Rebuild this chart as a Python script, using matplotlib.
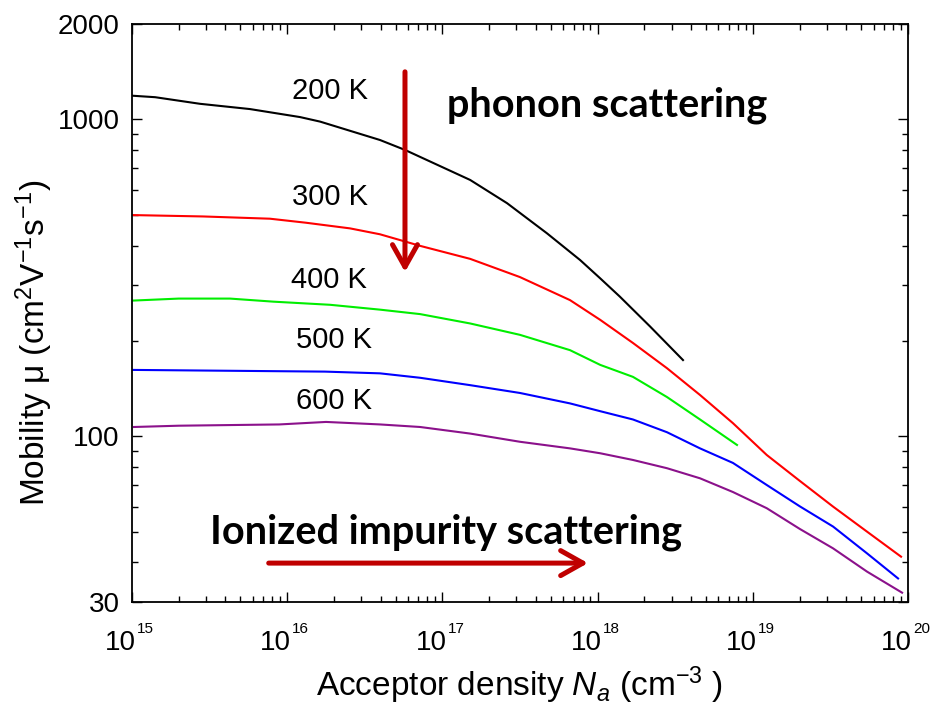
import matplotlib
matplotlib.use("Agg")
import matplotlib.pyplot as plt
from matplotlib.ticker import FixedLocator, NullFormatter, FixedFormatter
from matplotlib.transforms import blended_transform_factory, offset_copy

plt.rcParams['font.family'] = ['Liberation Sans', 'DejaVu Sans']
plt.rcParams['mathtext.fontset'] = 'custom'
plt.rcParams['mathtext.rm'] = 'Liberation Sans'
plt.rcParams['mathtext.it'] = 'Liberation Sans:italic'
plt.rcParams['mathtext.bf'] = 'Liberation Sans:bold'

# ---------------- data ----------------
x_200 = [1.0e15, 1.41e15, 2.74e15, 5.75e15, 1.21e16, 1.63e16, 3.96e16, 5.74e16,
         1.51e17, 2.61e17, 4.72e17, 7.71e17, 1.04e18, 1.39e18, 2.18e18, 3.55e18]
mu_200 = [1188, 1175, 1120, 1078, 1017, 984, 861, 801,
          644, 544, 437, 360, 315, 276, 222, 174]

x_300 = [1.0e15, 2.87e15, 7.74e15, 1.32e16, 2.54e16, 3.96e16, 7.18e16, 1.51e17,
         3.16e17, 6.64e17, 1.04e18, 1.69e18, 2.80e18, 4.57e18, 7.45e18, 1.23e19,
         2.01e19, 3.29e19, 5.45e19, 9.02e19]
mu_300 = [499, 494, 486, 472, 453, 434, 399, 363,
          318, 269, 233, 197, 164, 135, 110, 87.3,
          72.3, 60.0, 50.0, 41.7]

x_400 = [1.0e15, 2.0e15, 4.28e15, 8.13e15, 1.89e16, 3.96e16, 7.18e16, 1.51e17,
         3.16e17, 6.64e17, 1.04e18, 1.69e18, 2.80e18, 4.57e18, 7.91e18]
mu_400 = [268, 272, 272, 266, 260, 251, 243, 227,
          209, 187, 168, 154, 133, 113, 93.9]

x_500 = [1.0e15, 1.75e16, 3.96e16, 7.18e16, 1.51e17, 3.16e17, 6.64e17, 1.04e18,
         1.69e18, 2.80e18, 4.57e18, 7.45e18, 1.23e19, 2.01e19, 3.29e19, 5.45e19, 8.63e19]
mu_500 = [162, 160, 158, 153, 145, 137, 127, 120,
          113, 103, 91.6, 82.4, 70.2, 60.1, 51.9, 42.7, 35.6]

x_600 = [1.03e15, 2.0e15, 8.9e15, 1.78e16, 3.96e16, 7.18e16, 1.51e17, 3.16e17,
         6.64e17, 1.04e18, 1.69e18, 2.80e18, 4.57e18, 7.45e18, 1.23e19, 2.01e19,
         3.29e19, 5.45e19, 9.16e19]
mu_600 = [107, 108, 109, 111, 109, 107, 102, 96.1,
          91.6, 88.4, 84.2, 79.3, 73.7, 66.7, 59.3, 51.0,
          44.3, 37.4, 32.1]

temps = ["200 K", "300 K", "400 K", "500 K", "600 K"]
colors = ["black", "#ff0000", "#00ee00", "#0000ff", "#8b118b"]

x_major = [1e15, 1e16, 1e17, 1e18, 1e19, 1e20]
x_exps = ["15", "16", "17", "18", "19", "20"]
y_major = [30, 100, 1000, 2000]
y_major_labels = ["30", "100", "1000", "2000"]
y_minor = [40, 50, 60, 70, 80, 90, 200, 300, 400, 500, 600, 700, 800, 900]

# ---------------- figure ----------------
fig = plt.figure(figsize=(9.34, 7.14), dpi=100)
ax = fig.add_axes([132/934, 112/714, 776/934, 578/714])

series = [(x_200, mu_200), (x_300, mu_300), (x_400, mu_400), (x_500, mu_500), (x_600, mu_600)]
for (xs, ys), c in zip(series, colors):
    ax.plot(xs, ys, color=c, lw=1.5, solid_joinstyle='round')

ax.set_xscale('log')
ax.set_yscale('log')
ax.set_xlim(1e15, 1e20)
ax.set_ylim(30, 2000)

ax.yaxis.set_major_locator(FixedLocator(y_major))
ax.yaxis.set_major_formatter(FixedFormatter(y_major_labels))
ax.yaxis.set_minor_locator(FixedLocator(y_minor))
ax.yaxis.set_minor_formatter(NullFormatter())
ax.xaxis.set_major_locator(FixedLocator(x_major))
ax.xaxis.set_major_formatter(NullFormatter())

ax.tick_params(which='both', direction='in', top=True, right=True, width=1.0, color='black')
ax.tick_params(which='major', length=7.5, labelsize=20, pad=9)
ax.tick_params(which='minor', length=4)
for s in ax.spines.values():
    s.set_linewidth(1.3)

# x tick labels: "10" with small superscript exponent
trans = blended_transform_factory(ax.transData, ax.transAxes)
for xv, ex in zip(x_major, x_exps):
    t1 = offset_copy(trans, fig=fig, x=4, y=-48, units='dots')
    ax.text(xv, 0, "10", transform=t1, ha='right', va='baseline', fontsize=20, clip_on=False)
    t2 = offset_copy(trans, fig=fig, x=5, y=-31, units='dots')
    ax.text(xv, 0, ex, transform=t2, ha='left', va='baseline', fontsize=11, clip_on=False)

ax.set_xlabel(r"Acceptor density $\mathit{N}_{a}$ (cm$^{-3}$ )", fontsize=24)
ax.xaxis.set_label_coords(0.5, -0.108)
ax.set_ylabel("Mobility μ (cm$^{2}$V$^{-1}$s$^{-1}$)", fontsize=24)
ax.yaxis.set_label_coords(-0.099, 0.448)

# temperature labels
label_x = [1.89e16, 1.89e16, 1.86e16, 2.0e16, 2.0e16]
label_y = [1160, 537, 294, 190, 122]
for t, lx, ly in zip(temps, label_x, label_y):
    ax.text(lx, ly, t, ha='center', va='baseline', fontsize=21)

# scattering annotations
arrow_c = "#c00000"
ax.text(1.16e18, 1020, "phonon scattering", ha='center', va='baseline',
        fontsize=28.5, fontweight='bold', family=['Lato', 'DejaVu Sans'])
ax.text(1.055e17, 45.96, "Ionized impurity scattering", ha='center', va='baseline',
        fontsize=28.5, fontweight='bold', family=['Lato', 'DejaVu Sans'])

ax.annotate("", xy=(5.74e16, 330), xytext=(5.74e16, 1413),
            arrowprops=dict(arrowstyle='->,head_length=0.8,head_width=0.45',
                            color=arrow_c, lw=3.6, shrinkA=0, shrinkB=0,
                            mutation_scale=20))
ax.annotate("", xy=(8.67e17, 39.8), xytext=(7.6e15, 39.8),
            arrowprops=dict(arrowstyle='->,head_length=0.8,head_width=0.45',
                            color=arrow_c, lw=3.6, shrinkA=0, shrinkB=0,
                            mutation_scale=20))

fig.savefig("out.png", dpi=100)
